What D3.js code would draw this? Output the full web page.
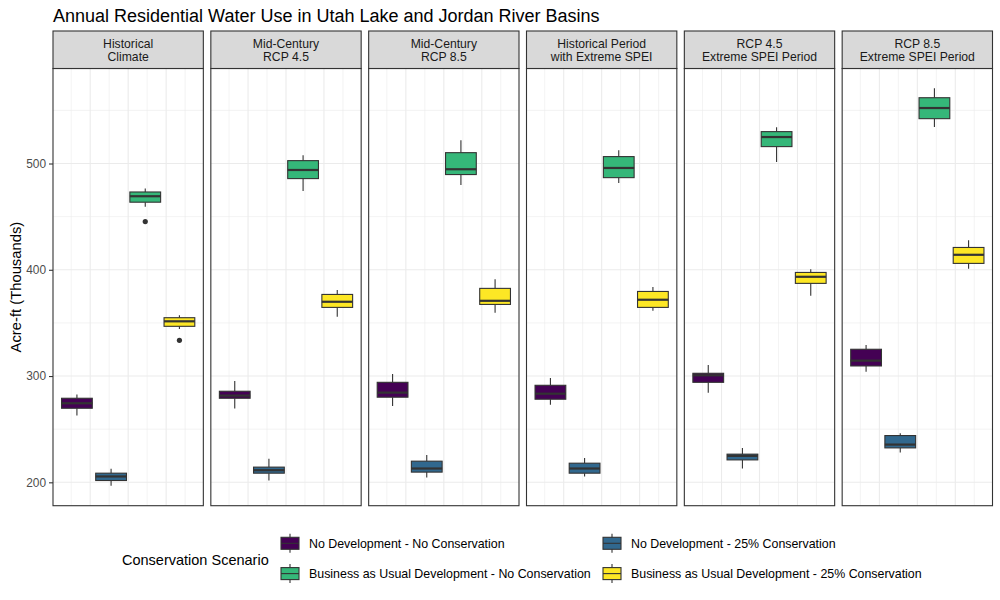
<!DOCTYPE html>
<html>
<head>
<meta charset="utf-8">
<script src="https://cdn.jsdelivr.net/npm/d3@7"></script>
<style>
  body { margin: 0; background: #fff; }
  text { font-family: "Liberation Sans", Arial, sans-serif; }
</style>
</head>
<body>
<div id="chart"></div>
<script>
// facet panels (strip labels, two lines each)
const panels = [
  ["Historical", "Climate"],
  ["Mid-Century", "RCP 4.5"],
  ["Mid-Century", "RCP 8.5"],
  ["Historical Period", "with Extreme SPEI"],
  ["RCP 4.5", "Extreme SPEI Period"],
  ["RCP 8.5", "Extreme SPEI Period"]
];

const scenarios = [
  "No Development - No Conservation",
  "No Development - 25% Conservation",
  "Business as Usual Development - No Conservation",
  "Business as Usual Development - 25% Conservation"
];
const colors = ["#440154", "#31688E", "#35B779", "#FDE725"];

// box stats per panel, per scenario: [lower whisker, q1, median, q3, upper whisker]
const stats = [
  [[262.8, 269.7, 274.4, 279.1, 282.7], [196.7, 201.7, 205.5, 208.6, 212.7], [459.2, 463.6, 469.2, 473.2, 476.4], [344.2, 346.8, 351.5, 354.9, 357.1]],
  [[269.4, 279.1, 281.6, 285.7, 295.4], [201.7, 208.6, 211.4, 214.3, 222.1], [474.2, 485.8, 493.9, 502.7, 507.7], [355.8, 364.6, 369.9, 376.8, 380.9]],
  [[271.9, 280.1, 284.4, 294.1, 301.9], [204.5, 209.6, 213.0, 219.9, 225.8], [479.8, 489.6, 494.6, 510.2, 521.8], [359.5, 367.4, 370.8, 382.5, 391.2]],
  [[273.1, 278.2, 283.4, 291.3, 298.2], [205.5, 208.6, 213.0, 218.0, 223.0], [481.7, 486.7, 495.8, 506.5, 512.4], [361.4, 364.6, 371.8, 379.6, 383.7]],
  [[284.4, 294.1, 300.7, 302.6, 310.4], [213.0, 221.1, 224.9, 226.5, 232.4], [501.5, 515.9, 524.9, 530.0, 534.0], [375.5, 387.2, 393.4, 397.5, 400.6]],
  [[304.1, 309.5, 314.5, 325.2, 329.2], [228.0, 232.4, 235.5, 244.0, 246.2], [534.3, 542.2, 552.2, 561.9, 570.7], [400.9, 406.0, 414.1, 421.0, 427.9]]
];

// outliers: [panel, scenario, value]
const outliers = [[0, 2, 445.4], [0, 3, 333.6]];

const yTicks = [200, 300, 400, 500];
const yMinor = [250, 350, 450, 550];

const W = 1000, H = 600;
const svg = d3.select("#chart").append("svg")
  .attr("width", W).attr("height", H);

const left = 53, right = 992.5, gap = 7.5;
const stripTop = 31, stripBot = 68.5, plotBot = 505.7;
const pw = (right - left - gap * (panels.length - 1)) / panels.length;

// y scale with 5% expansion like ggplot
const allVals = stats.flat(2).concat(outliers.map(d => d[2]));
const yMin = d3.min(allVals), yMax = d3.max(allVals);
const pad = (yMax - yMin) * 0.05;
const y = d3.scaleLinear().domain([yMin - pad, yMax + pad]).range([plotBot, stripBot]);

// continuous x inside each panel, dodge 4 boxes over width 0.9
const dodgeW = 0.9, nBox = scenarios.length, slot = dodgeW / nBox;
const x = d3.scaleLinear().domain([-dodgeW / 2 * 1.1, dodgeW / 2 * 1.1]).range([0, pw]);
const xGrid = d3.range(-0.375, 0.376, 0.125);
const boxW = slot * 0.9;

svg.append("text")
  .attr("x", left).attr("y", 22)
  .attr("font-size", 18).attr("fill", "#000")
  .text("Annual Residential Water Use in Utah Lake and Jordan River Basins");

panels.forEach((lab, p) => {
  const g = svg.append("g").attr("transform", `translate(${left + p * (pw + gap)},0)`);

  // grid
  g.selectAll(".ym").data(yMinor).enter().append("line")
    .attr("x1", 0).attr("x2", pw).attr("y1", d => y(d)).attr("y2", d => y(d))
    .attr("stroke", "#ebebeb").attr("stroke-width", 0.6);
  g.selectAll(".xg").data(xGrid).enter().append("line")
    .attr("x1", d => x(d)).attr("x2", d => x(d)).attr("y1", stripBot).attr("y2", plotBot)
    .attr("stroke", "#ebebeb").attr("stroke-width", (d, i) => i % 2 ? 1.1 : 0.6);
  g.selectAll(".yg").data(yTicks).enter().append("line")
    .attr("x1", 0).attr("x2", pw).attr("y1", d => y(d)).attr("y2", d => y(d))
    .attr("stroke", "#ebebeb").attr("stroke-width", 1.1);

  // boxes
  stats[p].forEach((s, k) => {
    const cx = x(-dodgeW / 2 + slot * (k + 0.5));
    const hw = (x(boxW) - x(0)) / 2;
    const b = g.append("g");
    b.append("line").attr("x1", cx).attr("x2", cx).attr("y1", y(s[0])).attr("y2", y(s[1]))
      .attr("stroke", "#333").attr("stroke-width", 1.1);
    b.append("line").attr("x1", cx).attr("x2", cx).attr("y1", y(s[3])).attr("y2", y(s[4]))
      .attr("stroke", "#333").attr("stroke-width", 1.1);
    b.append("rect").attr("x", cx - hw).attr("width", hw * 2)
      .attr("y", y(s[3])).attr("height", y(s[1]) - y(s[3]))
      .attr("fill", colors[k]).attr("stroke", "#333").attr("stroke-width", 1.1);
    b.append("line").attr("x1", cx - hw).attr("x2", cx + hw).attr("y1", y(s[2])).attr("y2", y(s[2]))
      .attr("stroke", "#333").attr("stroke-width", 2.2);
  });

  outliers.filter(o => o[0] === p).forEach(o => {
    g.append("circle")
      .attr("cx", x(-dodgeW / 2 + slot * (o[1] + 0.5))).attr("cy", y(o[2])).attr("r", 2.6)
      .attr("fill", "#333");
  });

  // panel border
  g.append("rect").attr("x", 0).attr("y", stripBot).attr("width", pw).attr("height", plotBot - stripBot)
    .attr("fill", "none").attr("stroke", "#333").attr("stroke-width", 1.1);

  // strip
  g.append("rect").attr("x", 0).attr("y", stripTop).attr("width", pw).attr("height", stripBot - stripTop)
    .attr("fill", "#d9d9d9").attr("stroke", "#333").attr("stroke-width", 1.1);
  const t = g.append("text").attr("text-anchor", "middle").attr("font-size", 12.2).attr("fill", "#1a1a1a");
  t.append("tspan").attr("x", pw / 2).attr("y", 48).text(lab[0]);
  t.append("tspan").attr("x", pw / 2).attr("y", 61.3).text(lab[1]);
});

// y axis
const yAxis = svg.append("g").attr("transform", `translate(${left},0)`)
  .call(d3.axisLeft(y).tickValues(yTicks).tickSize(4).tickPadding(3));
yAxis.select(".domain").remove();
yAxis.selectAll("line").attr("stroke", "#333").attr("stroke-width", 1.1);
yAxis.selectAll("text").attr("font-size", 11.9).attr("fill", "#4d4d4d")
  .style("font-family", '"Liberation Sans", Arial, sans-serif');

svg.append("text")
  .attr("transform", `translate(21,${(stripBot + plotBot) / 2}) rotate(-90)`)
  .attr("text-anchor", "middle").attr("font-size", 14.8).attr("fill", "#000")
  .text("Acre-ft (Thousands)");

// legend
const leg = svg.append("g");
leg.append("text").attr("x", 122).attr("y", 565).attr("font-size", 14.5).attr("fill", "#000")
  .text("Conservation Scenario");
const legPos = [[281, 543.3], [603, 543.3], [281, 573.6], [603, 573.6]];
scenarios.forEach((s, k) => {
  const [lx, ly] = legPos[k];
  const kg = leg.append("g").attr("transform", `translate(${lx},${ly})`);
  kg.append("line").attr("x1", 9).attr("x2", 9).attr("y1", -9.5).attr("y2", 9.5)
    .attr("stroke", "#333").attr("stroke-width", 1.1);
  kg.append("rect").attr("x", 0).attr("y", -6).attr("width", 18).attr("height", 12)
    .attr("fill", colors[k]).attr("stroke", "#333").attr("stroke-width", 1.1);
  kg.append("line").attr("x1", 0).attr("x2", 18).attr("y1", 0).attr("y2", 0)
    .attr("stroke", "#333").attr("stroke-width", 1.1);
  kg.append("text").attr("x", 28).attr("y", 4.3).attr("font-size", 12.4).attr("fill", "#000")
    .text(s);
});
</script>
</body>
</html>
